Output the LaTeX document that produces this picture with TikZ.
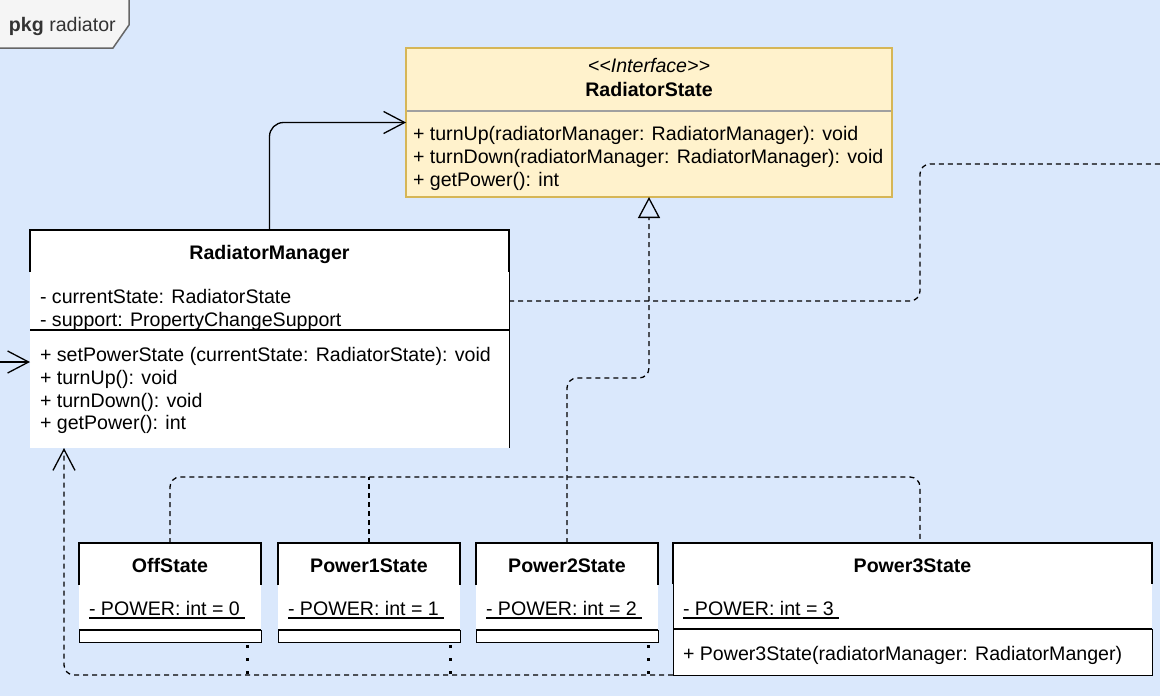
\documentclass[tikz,border=0pt]{standalone}
\usepackage{fontspec}
\setmainfont{Liberation Sans}
\usetikzlibrary{arrows.meta}
\definecolor{bgblue}{HTML}{DAE8FC}
\definecolor{ifill}{HTML}{FFF2CC}
\definecolor{istroke}{HTML}{D6B656}
\definecolor{tabfill}{HTML}{F5F5F5}
\definecolor{tabstroke}{HTML}{666666}
\definecolor{sepgray}{HTML}{A0A0A0}
\definecolor{tabtext}{HTML}{333333}
\begin{document}
\begin{tikzpicture}[x=1pt,y=-1pt,
  every node/.style={inner sep=0pt, outer sep=0pt},
  txt/.style={anchor=base west, font=\fontsize{19.6}{23}\selectfont},
  btxt/.style={anchor=base, font=\fontsize{19.6}{23}\selectfont\bfseries},
  itxt/.style={anchor=base, font=\fontsize{19.6}{23}\selectfont\itshape},
  box/.style={fill=white, draw=none, anchor=north west},
  hdr/.style={line width=2pt, black},
  thinb/.style={line width=1pt, black},
  sepline/.style={line width=2.5pt, black},
  uline/.style={line width=1.1pt, black},
  dashln/.style={line width=1.3pt, dash pattern=on 5pt off 4pt},
  dotln/.style={line width=3pt, dash pattern=on 3pt off 10pt},
  conn/.style={line width=1.3pt},
  openarrow/.style={-{Straight Barb[length=21pt,width=22pt]}},
  realarrow/.style={-{Triangle[open,length=21pt,width=22pt]}},
]
\useasboundingbox (0,0) rectangle (1160,696);
\fill[bgblue] (0,0) rectangle (1160,696);

% package tab
\draw[fill=tabfill, draw=tabstroke, line width=1.5pt] (-3,-3) -- (129,-3) -- (129,25) -- (113,48) -- (-3,48) -- cycle;
\node[txt, text=tabtext] (tab) at (9,31) {\textbf{pkg} radiator};

% RadiatorState interface
\node[fill=ifill, draw=istroke, line width=2pt, anchor=north west, minimum width=486pt, minimum height=149pt] (rs) at (406,48) {};
\draw[sepgray, line width=2.5pt] (407,111) -- (891,111);
\node[itxt] (rs-st) at (649,72) {\textless\kern0pt\textless Interface\textgreater\kern0pt\textgreater};
\node[btxt] (rs-title) at (649,96) {RadiatorState};
\node[txt] (rs-m1) at (413,140) {+ turnUp(radiatorManager: RadiatorManager): void};
\node[txt] (rs-m2) at (413,163) {+ turnDown(radiatorManager: RadiatorManager): void};
\node[txt] (rs-m3) at (413,186) {+ getPower(): int};

% RadiatorManager
\node[box, minimum width=479pt, minimum height=218pt] (rm) at (30,230) {};
\draw[hdr] (30,272) -- (30,230) -- (509,230) -- (509,272);
\draw[thinb] (509,272) -- (509,448);
\draw[line width=2pt] (30,330) -- (509,330);
\node[btxt] (rm-title) at (269.5,259) {RadiatorManager};
\node[txt] (rm-a1) at (40,303) {- currentState: RadiatorState};
\node[txt] (rm-a2) at (40,326) {- support: PropertyChangeSupport};
\node[txt] (rm-m1) at (40,361) {+ setPowerState (currentState: RadiatorState): void};
\node[txt] (rm-m2) at (40,384) {+ turnUp(): void};
\node[txt] (rm-m3) at (40,407) {+ turnDown(): void};
\node[txt] (rm-m4) at (40,429) {+ getPower(): int};

% simple state classes
\foreach \n/\x/\t/\v in {off/79/OffState/0, p1/278/Power1State/1, p2/476/Power2State/2} {
  \node[box, minimum width=182pt, minimum height=99pt] (\n) at (\x,543) {};
  \draw[hdr] (\x,585) -- (\x,543) -- (\x+182,543) -- (\x+182,585);
  \node[btxt] (\n-title) at (\x+91,572) {\t};
  \node[txt] (\n-attr) at (\x+10,615) {- POWER: int = \v};
  \draw[uline] ([yshift=-3pt]\n-attr.base west) -- ([xshift=5pt,yshift=-3pt]\n-attr.base east);
  \draw[sepline] (\x,630) -- (\x+182,630);
  \draw[thinb] (\x,630) -- (\x,642) -- (\x+182,642) -- (\x+182,630);
}

% Power3State
\node[box, minimum width=479pt, minimum height=132pt] (p3) at (673,543) {};
\draw[hdr] (673,584) -- (673,543) -- (1152,543) -- (1152,584);
\draw[thinb] (673,584) -- (673,675) -- (1152,675) -- (1152,629);
\draw[sepline] (673,629) -- (1152,629);
\node[btxt] (p3-title) at (912.5,572) {Power3State};
\node[txt] (p3-attr) at (683,615) {- POWER: int = 3};
\draw[uline] ([yshift=-3pt]p3-attr.base west) -- ([xshift=5pt,yshift=-3pt]p3-attr.base east);
\node[txt] (p3-m1) at (683,660) {+ Power3State(radiatorManager: RadiatorManger)};

% connectors
\coordinate (leftin) at (0,362);
\coordinate (farright) at (1170,164);

\draw[conn, openarrow, rounded corners=14pt] (rm.north) |- (rs.west);
\draw[conn, openarrow] (leftin) -- (leftin -| rm.west);
\draw[dashln, rounded corners=10pt] ([yshift=-71pt]rm.north east) -- ++(411,0) |- (farright);
\draw[dashln, realarrow, rounded corners=10pt] (p2.north) -- (p2.north |- 0,378) -| (rs.south);
\draw[dashln, rounded corners=10pt] (off.north) -- ++(0,-66) -| ([xshift=7.5pt]p3.north);
\draw[dashln] (p1.north) -- ++(0,-66);
\draw[dashln, openarrow, rounded corners=10pt] (p3.south west) -| ([xshift=34pt]rm.south west);
\draw[dotln] ([xshift=-14pt,yshift=-3pt]off.south east) -- ++(0,31);
\draw[dotln] ([xshift=-10pt,yshift=-3pt]p1.south east) -- ++(0,31);
\draw[dotln] ([xshift=-10pt,yshift=-3pt]p2.south east) -- ++(0,31);
\end{tikzpicture}
\end{document}
